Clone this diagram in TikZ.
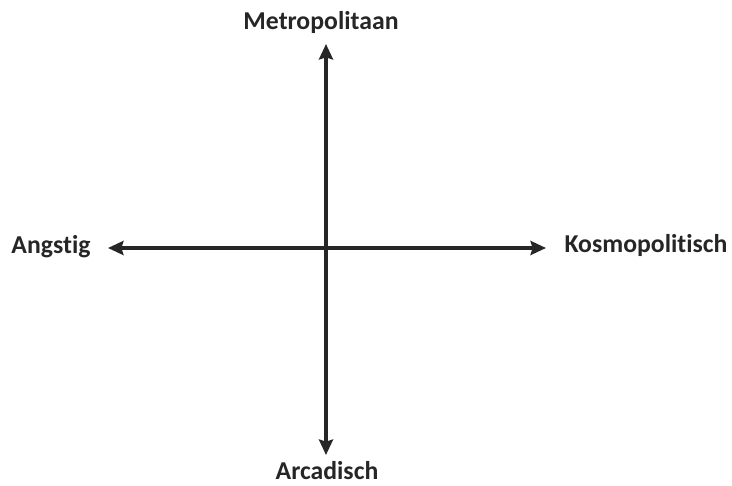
\documentclass[tikz,border=0pt]{standalone}
\usepackage{fontspec}
\setmainfont{Carlito}[Ligatures=NoCommon]
\usetikzlibrary{arrows.meta}

\tikzset{
    as/.style={line width=2.6pt, draw={black!85}, -{Stealth[length=11pt,width=10pt,inset=1.5pt]}},
    pool/.style={font=\bfseries\fontsize{18.3}{20}\selectfont, text=black!85, inner sep=0pt}
}

\begin{document}
\begin{tikzpicture}[x=0.025cm, y=-0.025cm]
    \useasboundingbox (0,0) rectangle (732,486);

    % Middelpunt en eindpunten van de assen
    \def\xm{326}  \def\ym{248}
    \coordinate (c) at (\xm, \ym);
    \coordinate (n) at (\xm, 44);
    \coordinate (z) at (\xm, 455);
    \coordinate (w) at (108, \ym);
    \coordinate (o) at (546, \ym);

    % Polen
    \node[pool] (metro) at (321, 22) {Metropolitaan};
    \node[pool] (arca) at (327, 471) {Arcadisch};
    \node[pool] (angst) at (51, 247) {Angstig};
    \node[pool] (kosmo) at (646, 245) {Kosmopolitisch};

    % Assen
    \draw[as] (c) -- (n);
    \draw[as] (c) -- (z);
    \draw[as] (c) -- (w);
    \draw[as] (c) -- (o);

\end{tikzpicture}
\end{document}
